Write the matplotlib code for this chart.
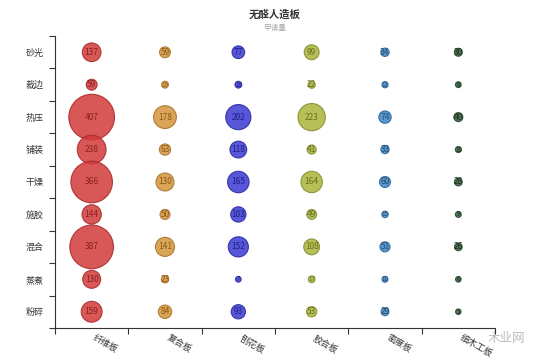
import matplotlib
matplotlib.use('Agg')
import matplotlib.pyplot as plt
import numpy as np

plt.rcParams['font.family'] = ['Noto Sans CJK SC', 'DejaVu Sans']

# 数据
procesos = ['砂光', '裁边', '热压', '铺装', '干燥', '施胶', '混合', '蒸煮', '粉碎']
tableros = ['纤维板', '复合板', '刨花板', '胶合板', '密度板', '细木工板']

v_fibra = [137, 59, 407, 238, 366, 144, 387, 130, 159]
v_compuesto = [59, 19, 178, 63, 130, 50, 141, 23, 84]
v_particulas = [77, 18, 202, 118, 165, 103, 152, 7, 93]
v_contrachapado = [99, 22, 223, 41, 164, 49, 108, 17, 53]
v_densidad = [34, 12, 74, 33, 60, 15, 51, 10, 29]
v_carpinteria = [30, 8, 40, 10, 28, 9, 26, 6, 5]

series = [v_fibra, v_compuesto, v_particulas, v_contrachapado, v_densidad, v_carpinteria]
colores = ['#d23a3a', '#d4953c', '#3a3ad2', '#aab53a', '#3f85c4', '#35603a']
bordes = ['#a82626', '#a86f22', '#2626a0', '#80892a', '#2c6396', '#22402a']
texto = ['#8a2020', '#8a5a18', '#20208a', '#6a7020', '#224f7a', '#1a3020']

fig = plt.figure(figsize=(5.5, 3.64), dpi=100)
ax = fig.add_axes([0.1, 0.099, 0.8, 0.802])

for i, vals in enumerate(series):
    vals = np.array(vals, dtype=float)
    d_px = 5 + 0.1 * vals          # diametro en pixeles
    s = (d_px * 0.72) ** 2
    y = np.arange(len(procesos))
    x = np.full(len(procesos), i)
    ax.scatter(x, y, s=s, color=colores[i], alpha=0.85, edgecolors=bordes[i],
               linewidths=0.8, zorder=3)
    for j, v in enumerate(vals):
        fs = 6 if v >= 20 else 4.5
        ax.text(i, j, str(int(v)), ha='center', va='center', fontsize=fs,
                color=texto[i], zorder=4)

ax.set_xlim(-0.5, len(tableros) - 0.5)
ax.set_ylim(len(procesos) - 0.5, -0.5)

# ticks en los limites de cada categoria
ax.set_xticks(np.arange(-0.5, len(tableros) + 0.5, 1))
ax.set_xticklabels([])
ax.set_xticks(np.arange(len(tableros)), minor=True)
ax.set_xticklabels(tableros, minor=True, rotation=-30, ha='left', fontsize=6.5, color='#333333')
ax.set_yticks(np.arange(-0.5, len(procesos) + 0.5, 1))
ax.set_yticklabels([])
ax.set_yticks(np.arange(len(procesos)), minor=True)
ax.set_yticklabels(procesos, minor=True, fontsize=6.5, color='#333333')
ax.tick_params(which='major', length=4, color='#333333', width=0.8)
ax.tick_params(which='minor', length=0, pad=8)
ax.tick_params(axis='x', which='minor', pad=4)

for lado in ['top', 'right']:
    ax.spines[lado].set_visible(False)
for lado in ['left', 'bottom']:
    ax.spines[lado].set_color('#333333')
    ax.spines[lado].set_linewidth(0.8)

fig.text(0.5, 0.975, '无醛人造板', ha='center', va='top', fontsize=7.5,
         fontweight='bold', color='#333333')
fig.text(0.5, 0.935, '申请量', ha='center', va='top', fontsize=5.5, color='#aaaaaa')

fig.text(0.955, 0.07, '木业网', ha='right', va='center', fontsize=9, color='#bbbbbb')

fig.savefig('out.png', dpi=100)
